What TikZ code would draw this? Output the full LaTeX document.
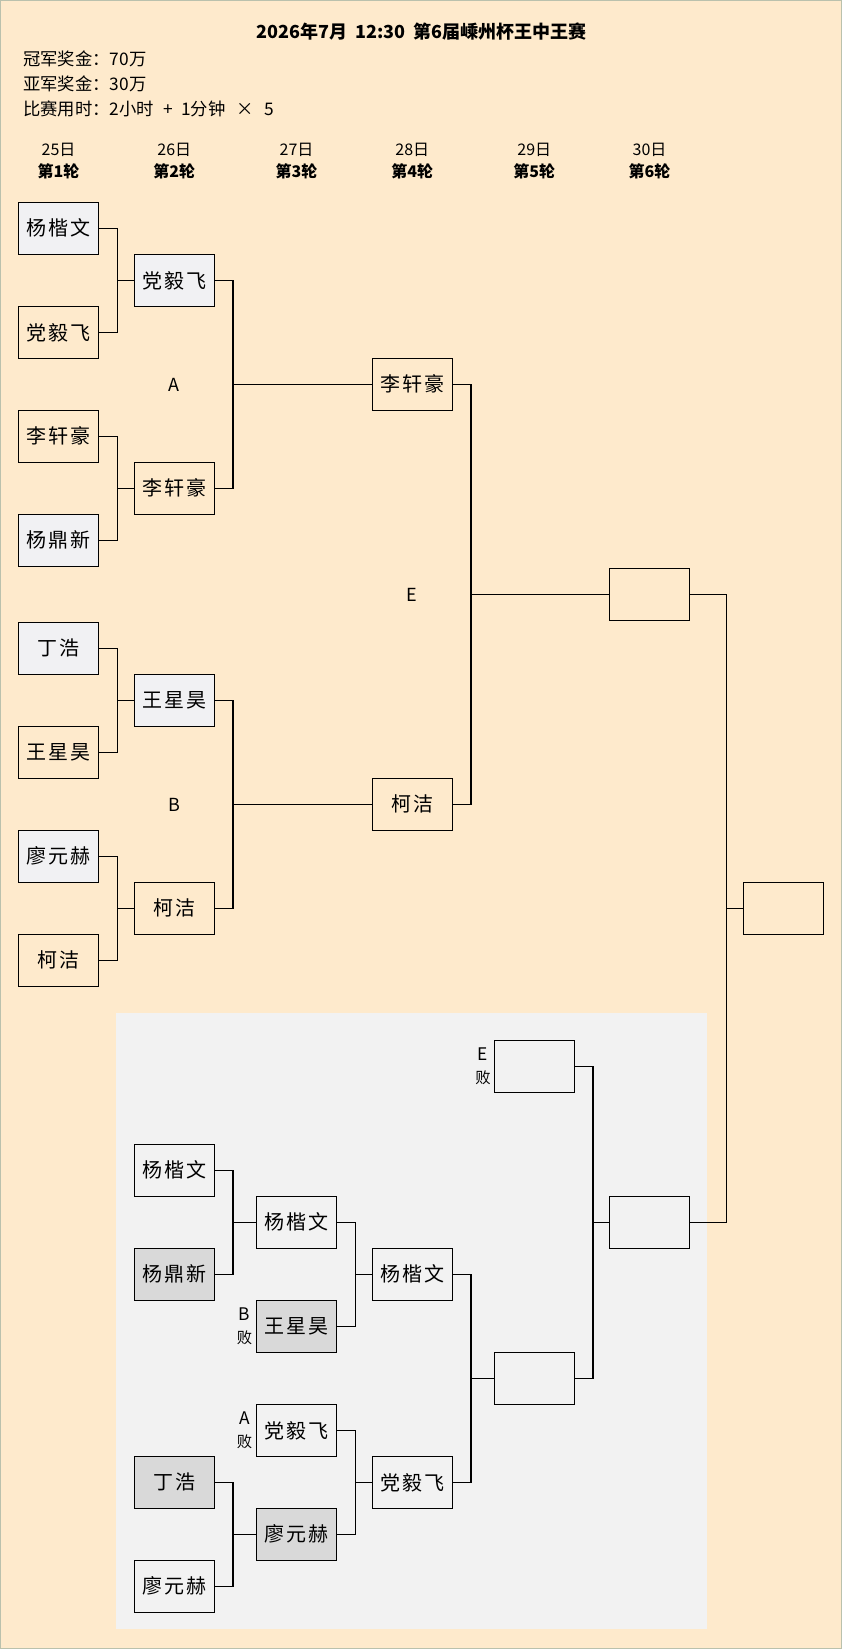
\documentclass[tikz,border=0pt]{standalone}
\usepackage{fontspec}
\setmainfont{Noto Sans CJK SC}
\newfontfamily\namefont[LetterSpace=10]{Noto Sans CJK SC}
\usetikzlibrary{calc}

\definecolor{paper}{HTML}{FEEACC}
\definecolor{pale}{HTML}{F1F1F3}
\definecolor{panel}{HTML}{F2F2F2}
\definecolor{lost}{HTML}{D9D9D9}
\definecolor{frame}{HTML}{BAC1AD}

\tikzset{
  player/.style={draw, line width=1pt, minimum width=60pt, minimum height=39pt,
    inner sep=0pt, font=\namefont\fontsize{15pt}{18pt}\selectfont},
  link/.style={line width=1pt},
  grp/.style={font=\fontsize{13.5pt}{16pt}\selectfont},
  tag/.style={align=center, inner sep=0pt, font=\fontsize{13pt}{17pt}\selectfont},
  info/.style={anchor=west, inner sep=0pt, font=\fontsize{13pt}{15pt}\selectfont},
  day/.style={align=center, inner sep=0pt, font=\fontsize{12pt}{17pt}\selectfont}
}

% bracket: two boxes meet, the line goes on to the next box
\newcommand{\joinpair}[4][18]{%
  \draw[link] (#2.east) -- ++(#1,0) coordinate (j#2) |- (#3.east);
  \draw[link] (#4.west) -- (#4.west -| j#2);
}

\begin{document}
\begin{tikzpicture}[x=0.75pt, y=-0.75pt]
    \useasboundingbox (0,0) rectangle (842,1649);
    \fill[paper] (0,0) rectangle (842,1649);
    \draw[frame, line width=1pt] (0.7,0.7) rectangle (841.3,1648.3);
    \fill[panel] (115.7,1013.3) rectangle (706.7,1629);

    % Header
    \node[font=\fontsize{13.5pt}{16pt}\selectfont\bfseries] (title) at (421.5,32) {2026年7月\ \ 12:30\ \ 第6届嵊州杯王中王赛};
    \node[info] (p1) at (23,59) {冠军奖金：70万};
    \node[info] (p2) at (23,84) {亚军奖金：30万};
    \node[info] (p3) at (23,109) {比赛用时：2小时\hspace{7pt}+\hspace{6pt}1分钟\hspace{8pt}×\hspace{8pt}5};
    \node[day] (d1) at (58.5,161) {25日\\{\bfseries 第1轮}};
    \node[day] (d2) at (174.3,161) {26日\\{\bfseries 第2轮}};
    \node[day] (d3) at (296.5,161) {27日\\{\bfseries 第3轮}};
    \node[day] (d4) at (412.3,161) {28日\\{\bfseries 第4轮}};
    \node[day] (d5) at (534.3,161) {29日\\{\bfseries 第5轮}};
    \node[day] (d6) at (649.5,161) {30日\\{\bfseries 第6轮}};

    % Draw nodes
    \node[player, fill=pale] (a1) at (58.5,228.3) {杨楷文};
    \node[player] (a2) at (58.5,332.3) {党毅飞};
    \node[player] (a3) at (58.5,436.3) {李轩豪};
    \node[player, fill=pale] (a4) at (58.5,540.3) {杨鼎新};
    \node[player, fill=pale] (a5) at (58.5,648.3) {丁浩};
    \node[player] (a6) at (58.5,752.3) {王星昊};
    \node[player, fill=pale] (a7) at (58.5,856.3) {廖元赫};
    \node[player] (a8) at (58.5,960.3) {柯洁};

    \node[player, fill=pale] (b1) at (174.3,280.3) {党毅飞};
    \node[player] (b2) at (174.3,488.3) {李轩豪};
    \node[player, fill=pale] (b3) at (174.3,700.3) {王星昊};
    \node[player] (b4) at (174.3,908.3) {柯洁};

    \node[player] (c1) at (412.3,384.3) {李轩豪};
    \node[player] (c2) at (412.3,804.3) {柯洁};
    \node[player] (c3) at (649.5,594.3) {};
    \node[player] (fin) at (783.5,908.3) {};

    \node[player, fill=panel] (l1) at (174.3,1170.3) {杨楷文};
    \node[player, fill=lost] (l2) at (174.3,1274.3) {杨鼎新};
    \node[player, fill=panel] (l3) at (296.5,1222.3) {杨楷文};
    \node[player, fill=lost] (l4) at (296.5,1326.3) {王星昊};
    \node[player, fill=panel] (l5) at (412.3,1274.3) {杨楷文};
    \node[player, fill=panel] (l6) at (296.5,1430.3) {党毅飞};
    \node[player, fill=lost] (l7) at (174.3,1482.3) {丁浩};
    \node[player, fill=panel] (l8) at (174.3,1586.3) {廖元赫};
    \node[player, fill=lost] (l9) at (296.5,1534.3) {廖元赫};
    \node[player, fill=panel] (l10) at (412.3,1482.3) {党毅飞};
    \node[player, fill=panel] (l11) at (534.3,1378.3) {};
    \node[player, fill=panel] (l12) at (534.3,1066.3) {};
    \node[player, fill=panel] (l13) at (649.5,1222.3) {};

    % Draw connections
    \joinpair{a1}{a2}{b1}
    \joinpair{a3}{a4}{b2}
    \joinpair{a5}{a6}{b3}
    \joinpair{a7}{a8}{b4}
    \joinpair{b1}{b2}{c1}
    \joinpair{b3}{b4}{c2}
    \joinpair{c1}{c2}{c3}
    \joinpair[36]{c3}{l13}{fin}
    \joinpair{l1}{l2}{l3}
    \joinpair{l3}{l4}{l5}
    \joinpair{l7}{l8}{l9}
    \joinpair{l6}{l9}{l10}
    \joinpair{l5}{l10}{l11}
    \joinpair{l12}{l11}{l13}

    % Labels
    \node[grp] (ga) at (174,384.5) {A};
    \node[grp] (gb) at (174,805) {B};
    \node[grp] (ge) at (412,595) {E};
    \node[tag] (te) at (483,1066) {E\\{\fontsize{11.5pt}{17pt}\selectfont 败}};
    \node[tag] (tb) at (244.5,1326) {B\\{\fontsize{11.5pt}{17pt}\selectfont 败}};
    \node[tag] (ta) at (244.5,1430) {A\\{\fontsize{11.5pt}{17pt}\selectfont 败}};
\end{tikzpicture}
\end{document}
